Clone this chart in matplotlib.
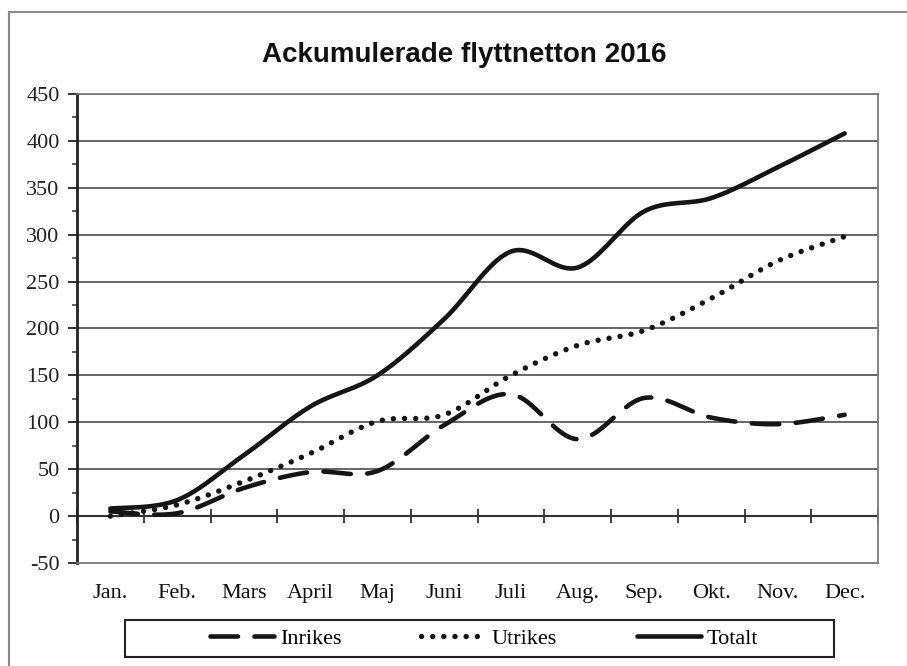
import matplotlib
matplotlib.use("Agg")
import matplotlib.pyplot as plt
import matplotlib.patches as patches
import numpy as np

# values
months = ["Jan.", "Feb.", "Mars", "April", "Maj", "Juni",
          "Juli", "Aug.", "Sep.", "Okt.", "Nov.", "Dec."]
inrikes = [5, 3, 30, 47, 48, 97, 130, 82, 126, 105, 98, 108]
utrikes = [0, 12, 37, 67, 101, 108, 150, 182, 198, 232, 272, 298]
totalt = [8, 17, 65, 117, 150, 210, 282, 265, 325, 339, 372, 408]
yticks = list(range(-50, 451, 50))


def smooth(vals, n=40):
    # excel-like smoothed line (catmull-rom as bezier)
    p = np.array(vals, float)
    x = np.arange(len(p), dtype=float)
    xs, ys = [], []
    t = np.linspace(0, 1, n, endpoint=False)
    for i in range(len(p) - 1):
        i0 = max(i - 1, 0)
        i3 = min(i + 2, len(p) - 1)
        for arr, out in ((x, xs), (p, ys)):
            a, d = arr[i], arr[i + 1]
            b = a + (d - arr[i0]) / 6
            c = d - (arr[i3] - a) / 6
            out.extend((1 - t) ** 3 * a + 3 * (1 - t) ** 2 * t * b
                       + 3 * (1 - t) * t ** 2 * c + t ** 3 * d)
    xs.append(x[-1])
    ys.append(p[-1])
    return np.array(xs), np.array(ys)


fig = plt.figure(figsize=(9.07, 6.66), dpi=100)
W, H = 907, 666
ax = fig.add_axes([77 / W, 1 - 563 / H, (878 - 77) / W, (563 - 94) / H])

serif = "Liberation Serif"
ink = "#151515"

ax.set_xlim(-0.5, 11.5)
ax.set_ylim(-50, 450)

# gridlines
for v in yticks[2:]:
    ax.axhline(v, color="#5a5a5a", lw=1.3, zorder=1)

xs, ys = smooth(inrikes)
ax.plot(xs, ys, color=ink, lw=3.3, linestyle=(0, (6, 3.6)),
        dash_capstyle="round", solid_capstyle="round", label="Inrikes", zorder=3)
xs, ys = smooth(utrikes)
ax.plot(xs, ys, color=ink, lw=3.9, linestyle=(0, (0.01, 2.05)),
        dash_capstyle="round", label="Utrikes", zorder=3)
xs, ys = smooth(totalt)
ax.plot(xs, ys, color=ink, lw=3.3, solid_capstyle="round", label="Totalt", zorder=3)

# frame
for s in ["top", "right", "bottom"]:
    ax.spines[s].set_color("#7a7a7a")
    ax.spines[s].set_linewidth(1.3)
ax.spines["left"].set_color("#222222")
ax.spines["left"].set_linewidth(2)

ax.set_yticks(yticks)
ax.set_yticklabels([str(v) for v in yticks], fontfamily=serif, fontsize=16)
ax.set_yticks(np.arange(-25, 450, 50), minor=True)
ax.tick_params(axis="y", which="major", direction="out", length=6.5, width=1.3,
               pad=6, colors="#222222")
ax.tick_params(axis="y", which="minor", direction="out", length=3.5, width=1.2,
               colors="#444444")

ax.set_xticks(range(len(months)))
ax.set_xticklabels(months, fontfamily=serif, fontsize=16)
ax.tick_params(axis="x", length=0, pad=15, colors="#111111")

# category axis crossing at zero
zero_ax = ax.secondary_xaxis(50 / 500)
zero_ax.spines["bottom"].set_color("#333333")
zero_ax.spines["bottom"].set_linewidth(1.5)
zero_ax.set_xticks(np.arange(-0.5, 12, 1))
zero_ax.set_xticklabels([])
zero_ax.tick_params(direction="inout", length=9.5, width=1.3, colors="#333333")

fig.text(464 / W, 1 - 55 / H, "Ackumulerade flyttnetton 2016",
         ha="center", va="center", fontfamily="Liberation Sans",
         fontweight="bold", fontsize=20, color="#111111")

# legend
leg = fig.legend(loc="center", bbox_to_anchor=(484 / W, 1 - 639 / H), ncol=3,
                 frameon=False, prop={"family": serif, "size": 16},
                 handlelength=2.9, handletextpad=0.25, columnspacing=3.6)
fig.patches.append(patches.Rectangle((125 / W, 1 - 657 / H), 709 / W, 37 / H,
                                     transform=fig.transFigure, fill=False,
                                     ec="#222222", lw=1.5))
# outer chart border
fig.patches.append(patches.Rectangle((9 / W, -0.05), 1.2, 1 - 12 / H + 0.05,
                                     transform=fig.transFigure, fill=False,
                                     ec="#8a8a8a", lw=1.5))

fig.savefig("out.png", dpi=100)
